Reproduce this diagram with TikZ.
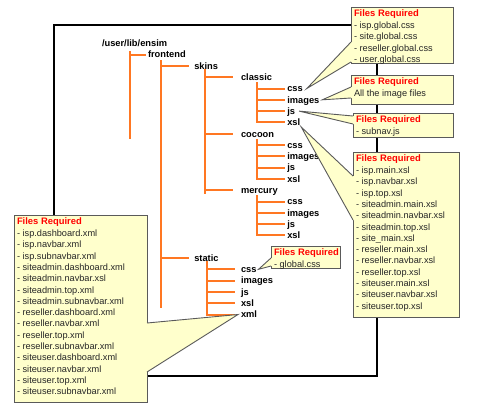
\documentclass[tikz,border=0pt]{standalone}
\usepackage{fontspec}
\setmainfont{Liberation Sans}
\usepackage{xcolor}
\usetikzlibrary{positioning}

\definecolor{branchorange}{RGB}{255,119,34}
\definecolor{notefill}{RGB}{255,255,204}
\definecolor{noteline}{RGB}{90,90,90}
\newcommand{\reqhead}{{\fontsize{9.4}{11.3}\selectfont\bfseries\color{red}Files Required}\\[0.7pt]}

\begin{document}
\begin{tikzpicture}[
  x=1pt, y=-1pt,
  every node/.style={font=\fontsize{9.3}{11.3}\selectfont},
  folder/.style={anchor=west, inner sep=0pt, outer sep=0pt,
    font=\fontsize{9.3}{11.3}\selectfont\bfseries,
    text height=1.5ex, text depth=.25ex},
  branch/.style={draw=branchorange, line width=2pt, line cap=rect},
  boxframe/.style={draw=black, line width=1.5pt},
  notebox/.style={draw=noteline, fill=notefill, line width=0.9pt,
    anchor=north west, inner sep=0pt, outer sep=0pt},
  notetext/.style={anchor=north west, inner sep=0pt, outer sep=0pt,
    align=left, text=black!85, font=\fontsize{9.2}{11.3}\selectfont},
  pointer/.style={draw=noteline, line width=0.9pt},
]
\useasboundingbox (0,0) rectangle (484,413);

% Outer frame
\draw[boxframe] (54,25) rectangle (377,376);

% Tree labels
\node[folder] (ensim) at (102,43.3) {/user/lib/ensim};
\node[folder] (frontend) at (148,54.6) {frontend};
\node[folder] (skins) at (194.3,65.9) {skins};
\node[folder] (classic) at (241,77.2) {classic};
\node[folder] (clcss) at (287.3,88.5) {css};
\node[folder] (climages) at (287.3,99.8) {images};
\node[folder] (cljs) at (287.3,111.1) {js};
\node[folder] (clxsl) at (287.3,122.4) {xsl};
\node[folder] (cocoon) at (241,133.7) {cocoon};
\node[folder] (cocss) at (287.3,145.0) {css};
\node[folder] (coimages) at (287.3,156.3) {images};
\node[folder] (cojs) at (287.3,167.6) {js};
\node[folder] (coxsl) at (287.3,178.9) {xsl};
\node[folder] (mercury) at (241,190.2) {mercury};
\node[folder] (mecss) at (287.3,201.5) {css};
\node[folder] (meimages) at (287.3,212.8) {images};
\node[folder] (mejs) at (287.3,224.1) {js};
\node[folder] (mexsl) at (287.3,235.4) {xsl};
\node[folder] (static) at (194.3,258.0) {static};
\node[folder] (stcss) at (241,269.3) {css};
\node[folder] (stimages) at (241,280.6) {images};
\node[folder] (stjs) at (241,291.9) {js};
\node[folder] (stxsl) at (241,303.2) {xsl};
\node[folder] (stxml) at (241,314.5) {xml};

% Trunks
\coordinate (ensimtrunk) at (130,51.7);
\coordinate (fronttrunk) at (161,60.7);
\coordinate (skintrunk) at (205.3,70);
\coordinate (cltrunk) at (257.3,83.3);
\coordinate (cotrunk) at (257.3,139.8);
\coordinate (metrunk) at (257.3,196.3);
\coordinate (sttrunk) at (207.3,262);

\draw[branch] (ensimtrunk) -- ++(0,86.6);
\draw[branch] (ensimtrunk |- frontend.west) -- ([xshift=-3pt]frontend.west);

\draw[branch] (fronttrunk) -- ++(0,246);
\draw[branch] (fronttrunk |- skins.west) -- ([xshift=-6pt]skins.west);
\draw[branch] (fronttrunk |- static.west) -- ([xshift=-6pt]static.west);

\draw[branch] (skintrunk) -- ++(0,123.3);
\foreach \kid in {classic,cocoon,mercury}
  \draw[branch] (skintrunk |- \kid.west) -- ([xshift=-9pt]\kid.west);

\draw[branch] (cltrunk) -- (cltrunk |- clxsl.west);
\foreach \kid in {clcss,climages,cljs,clxsl}
  \draw[branch] (cltrunk |- \kid.west) -- ([xshift=-3pt]\kid.west);

\draw[branch] (cotrunk) -- (cotrunk |- coxsl.west);
\foreach \kid in {cocss,coimages,cojs,coxsl}
  \draw[branch] (cotrunk |- \kid.west) -- ([xshift=-3pt]\kid.west);

\draw[branch] (metrunk) -- (metrunk |- mexsl.west);
\foreach \kid in {mecss,meimages,mejs,mexsl}
  \draw[branch] (metrunk |- \kid.west) -- ([xshift=-3pt]\kid.west);

\draw[branch] (sttrunk) -- (sttrunk |- stxml.west);
\foreach \kid in {stcss,stimages,stjs,stxsl,stxml}
  \draw[branch] (sttrunk |- \kid.west) -- ([xshift=-7pt]\kid.west);

% Callout: classic css
\node[notebox, minimum width=102pt, minimum height=56pt] (cssnote) at (351,7) {};
\fill[notefill] ([xshift=4pt]clcss.east) -- (cssnote.west |- 0,42) -- ++(2,0) -- ++(0,20) -- ++(-2,0) -- cycle;
\draw[pointer] (cssnote.west |- 0,42) -- ([xshift=4pt]clcss.east) -- (cssnote.west |- 0,62);
\node[notetext, below right=2.7pt and 3pt of cssnote.north west] (csstext)
  {\reqhead - isp.global.css\\- site.global.css\\- reseller.global.css\\- user.global.css};

% Callout: classic images
\node[notebox, minimum width=102pt, minimum height=29pt] (imgnote) at (351,75) {};
\fill[notefill] ([xshift=3pt]climages.east) -- (imgnote.west |- 0,87) -- ++(2,0) -- ++(0,11) -- ++(-2,0) -- cycle;
\draw[pointer] (imgnote.west |- 0,87) -- ([xshift=3pt]climages.east) -- (imgnote.west |- 0,98);
\node[notetext, below right=2.7pt and 3pt of imgnote.north west] (imgtext)
  {\reqhead All the image files};

% Callout: classic js
\node[notebox, minimum width=100pt, minimum height=24pt] (jsnote) at (353,113) {};
\fill[notefill] ([xshift=4pt]cljs.east) -- (jsnote.west |- 0,116) -- ++(2,0) -- ++(0,8) -- ++(-2,0) -- cycle;
\draw[pointer] (jsnote.west |- 0,116) -- ([xshift=4pt]cljs.east) -- (jsnote.west |- 0,124);
\node[notetext, below right=2.7pt and 3pt of jsnote.north west] (jstext)
  {\reqhead - subnav.js};

% Callout: classic xsl
\node[notebox, minimum width=106pt, minimum height=165pt] (xslnote) at (353,152) {};
\fill[notefill] ([xshift=1pt]clxsl.south east) -- (xslnote.west |- 0,176) -- ++(2,0) -- ++(0,44) -- ++(-2,0) -- cycle;
\draw[pointer] (xslnote.west |- 0,176) -- ([xshift=1pt]clxsl.south east) -- (xslnote.west |- 0,220);
\node[notetext, below right=2.7pt and 3pt of xslnote.north west] (xsltext)
  {\reqhead - isp.main.xsl\\- isp.navbar.xsl\\- isp.top.xsl\\- siteadmin.main.xsl\\
   - siteadmin.navbar.xsl\\- siteadmin.top.xsl\\- site\_main.xsl\\- reseller.main.xsl\\
   - reseller.navbar.xsl\\- reseller.top.xsl\\- siteuser.main.xsl\\- siteuser.navbar.xsl\\
   - siteuser.top.xsl};

% Callout: static css
\node[notebox, minimum width=69pt, minimum height=22pt] (globalnote) at (271,246) {};
\fill[notefill] ([xshift=2pt]stcss.east) -- (globalnote.west |- 0,258) -- ++(2,0) -- ++(0,8) -- ++(-2,0) -- cycle;
\draw[pointer] (globalnote.west |- 0,258) -- ([xshift=2pt]stcss.east) -- (globalnote.west |- 0,266);
\node[notetext, below right=2.7pt and 3pt of globalnote.north west] (globaltext)
  {\reqhead - global.css};

% Callout: static xml
\node[notebox, minimum width=133pt, minimum height=187pt] (xmlnote) at (14,215) {};
\fill[notefill] ([xshift=-3pt]stxml.west) -- (xmlnote.east |- 0,323) -- ++(-2,0) -- ++(0,49) -- ++(2,0) -- cycle;
\draw[pointer] (xmlnote.east |- 0,323) -- ([xshift=-3pt]stxml.west) -- (xmlnote.east |- 0,372);
\node[notetext, below right=2.7pt and 3pt of xmlnote.north west] (xmltext)
  {\reqhead - isp.dashboard.xml\\- isp.navbar.xml\\- isp.subnavbar.xml\\
   - siteadmin.dashboard.xml\\- siteadmin.navbar.xsl\\- siteadmin.top.xml\\
   - siteadmin.subnavbar.xml\\- reseller.dashboard.xml\\- reseller.navbar.xml\\
   - reseller.top.xml\\- reseller.subnavbar.xml\\- siteuser.dashboard.xml\\
   - siteuser.navbar.xml\\- siteuser.top.xml\\- siteuser.subnavbar.xml};

\end{tikzpicture}
\end{document}
